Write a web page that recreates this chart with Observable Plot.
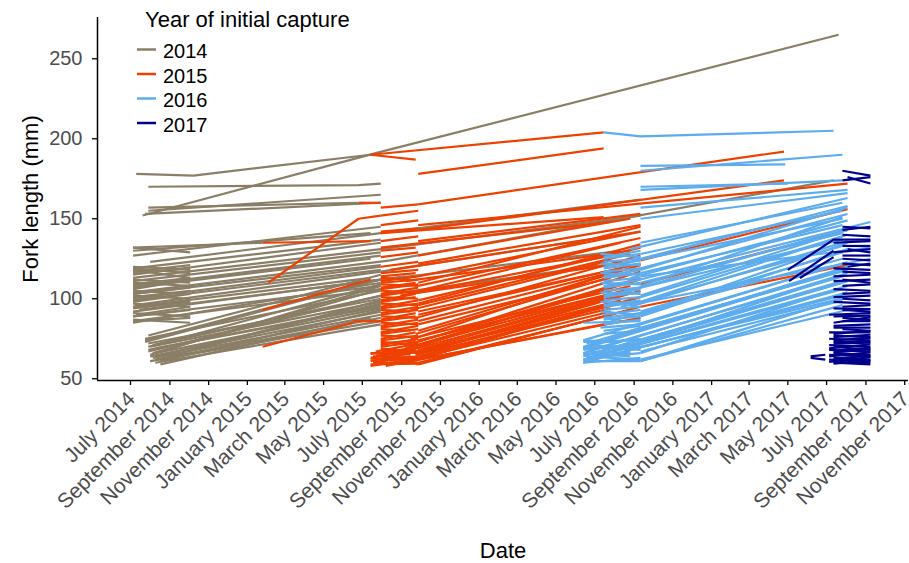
<!DOCTYPE html>
<html>
<head>
<meta charset="utf-8">
<script src="https://cdn.jsdelivr.net/npm/d3@7"></script>
<script src="https://cdn.jsdelivr.net/npm/@observablehq/plot@0.6"></script>
<style>
  html, body { margin: 0; padding: 0; background: #ffffff; }
  #wrap { position: relative; width: 909px; height: 563px; }
  #legend { position: absolute; left: 0; top: 0; pointer-events: none; }
</style>
</head>
<body>
<div id="wrap"></div>
<script>
// Cohorts (year of initial capture) and their line colours
const cohortYears = ["2014", "2015", "2016", "2017"];
const cohortColors = ["#8B7E66", "#EE4000", "#5CACEE", "#00008B"];

// Axis ticks
const yTicks = [50, 100, 150, 200, 250];
const xTickStart = "2014-07-01";
const xTickEnd = "2017-11-02";

// Each fish: capture date, fork length (mm), next capture date, length, ...
const tracks2014 = [
  ["2014-07-10",178,"2014-10-08",177,"2015-07-14",190],
  ["2014-07-20",152,"2015-07-22",191,"2017-07-20",265],
  ["2014-07-29",170,"2015-06-25",171,"2015-07-30",172],
  ["2014-07-29",155,"2015-07-30",165],
  ["2014-07-24",153,"2015-07-30",160],
  ["2014-07-29",157,"2015-06-25",160],
  ["2014-07-05",132,"2014-10-03",129],
  ["2014-07-05",132,"2015-01-25",135],
  ["2014-07-05",130,"2015-07-14",141],
  ["2014-08-01",123,"2015-07-30",141,"2016-09-11",162],
  ["2014-07-05",120,"2014-10-03",118],
  ["2014-07-05",117,"2014-10-03",121],
  ["2014-07-05",113,"2015-07-30",131,"2016-09-11",152],
  ["2014-07-05",110,"2014-10-03",108],
  ["2014-07-05",108,"2015-07-30",127],
  ["2014-07-05",106,"2014-10-03",112],
  ["2014-07-05",104,"2015-08-14",124,"2017-07-12",174],
  ["2014-07-05",102,"2014-10-03",100],
  ["2014-07-05",100,"2015-07-30",120],
  ["2014-07-05",98,"2014-10-03",103],
  ["2014-07-08",96,"2015-07-30",117,"2016-09-11",142],
  ["2014-07-05",94,"2014-10-03",98],
  ["2014-07-05",92,"2015-09-07",114],
  ["2014-07-10",90,"2014-10-03",95],
  ["2014-07-05",87,"2014-10-03",85],
  ["2014-07-05",85,"2015-07-30",110],
  ["2014-07-15",93,"2015-07-30",112],
  ["2014-07-05",115,"2015-07-30",135],
  ["2014-07-05",127,"2015-07-30",145],
  ["2014-07-05",119,"2014-10-03",116],
  ["2014-07-05",116,"2014-10-03",119],
  ["2014-07-05",112,"2014-10-03",110],
  ["2014-07-05",109,"2014-10-03",113],
  ["2014-07-05",105,"2014-10-03",103],
  ["2014-07-05",101,"2014-10-03",105],
  ["2014-07-05",97,"2014-10-03",95],
  ["2014-07-05",95,"2014-10-03",99],
  ["2014-07-05",91,"2014-10-03",89],
  ["2014-07-05",89,"2014-10-03",93],
  ["2014-07-05",86,"2014-10-03",88],
  ["2014-07-05",118,"2014-10-03",113],
  ["2014-07-05",103,"2014-10-03",107],
  ["2014-07-05",119,"2015-07-30",137],
  ["2014-07-05",111,"2015-07-30",129],
  ["2014-07-05",107,"2015-07-14",125],
  ["2014-07-05",103,"2015-07-30",121],
  ["2014-07-05",99,"2015-07-30",118],
  ["2014-07-05",95,"2015-07-14",113],
  ["2014-07-05",89,"2015-07-30",108],
  ["2014-07-05",86,"2015-07-30",106],
  ["2014-07-24",75,"2015-07-30",105],
  ["2014-07-29",72,"2015-07-30",100],
  ["2014-08-01",70,"2015-07-30",98],
  ["2014-07-29",68,"2015-07-30",96],
  ["2014-08-09",66,"2015-07-30",94],
  ["2014-08-01",64,"2015-07-30",92],
  ["2014-08-05",63,"2015-07-30",90],
  ["2014-08-09",62,"2015-07-30",88],
  ["2014-08-01",61,"2015-07-30",86],
  ["2014-08-17",59,"2015-07-14",88],
  ["2014-07-29",67,"2015-07-30",102],
  ["2014-08-01",65,"2015-07-30",108],
  ["2014-07-24",73,"2015-07-30",112],
  ["2014-08-09",69,"2015-07-30",95],
  ["2014-07-24",74,"2015-07-14",111,"2016-08-11",130],
  ["2014-08-05",71,"2015-08-14",103,"2016-07-15",121],
  ["2014-08-09",60,"2015-07-30",84],
  ["2014-07-29",77,"2015-07-30",115],
  ["2014-08-13",62,"2015-07-30",99],
  ["2014-08-05",66,"2015-07-30",106],
  ["2014-07-29",70,"2015-07-30",109],
  ["2014-08-09",64,"2015-07-30",97],
  ["2014-08-17",61,"2015-07-30",93]
];

const tracks2015 = [
  ["2015-01-25",135,"2015-07-14",136],
  ["2015-01-25",70,"2015-06-17",85],
  ["2015-01-25",93,"2015-07-14",112],
  ["2015-02-03",110,"2015-06-25",150,"2015-07-30",152],
  ["2015-06-17",86,"2015-07-30",86],
  ["2015-06-25",160,"2015-07-30",160],
  ["2015-07-14",190,"2016-07-15",204],
  ["2015-07-14",190,"2015-09-23",187],
  ["2015-09-27",178,"2016-07-15",194],
  ["2015-09-27",159,"2017-04-25",192],
  ["2015-09-27",143,"2017-04-25",174],
  ["2015-09-27",146,"2017-08-03",172],
  ["2015-08-07",58,"2016-08-11",86],
  ["2015-09-23",59,"2016-07-26",90],
  ["2015-09-27",60,"2016-08-26",93],
  ["2015-09-15",61,"2016-09-11",88],
  ["2015-09-27",62,"2016-07-15",96],
  ["2015-08-14",63,"2016-08-11",99],
  ["2015-09-27",64,"2016-09-11",101],
  ["2015-09-23",65,"2016-07-26",94],
  ["2015-09-27",66,"2016-08-26",104],
  ["2015-09-07",67,"2016-09-11",107],
  ["2015-09-27",68,"2016-07-15",100],
  ["2015-09-27",70,"2016-08-11",110],
  ["2015-09-15",72,"2016-09-11",113],
  ["2015-09-27",74,"2016-08-26",106],
  ["2015-09-27",76,"2016-07-26",116],
  ["2015-09-23",78,"2016-09-11",119],
  ["2015-09-27",86,"2016-08-11",118],
  ["2015-09-27",90,"2016-09-11",122],
  ["2015-09-15",93,"2016-07-26",124],
  ["2015-09-27",96,"2016-08-26",128],
  ["2015-09-27",99,"2016-09-11",132],
  ["2015-08-30",102,"2016-07-15",126],
  ["2015-09-27",105,"2016-08-11",135],
  ["2015-09-27",108,"2016-09-11",138],
  ["2015-09-07",111,"2016-08-26",130],
  ["2015-09-27",114,"2016-09-11",142],
  ["2015-08-14",118,"2016-08-11",140],
  ["2015-09-27",122,"2016-09-11",146],
  ["2015-09-27",127,"2016-08-26",150],
  ["2015-07-30",132,"2016-07-26",148],
  ["2015-09-27",136,"2016-09-11",153],
  ["2015-07-30",141,"2016-07-15",151],
  ["2015-09-27",59,"2016-09-11",95],
  ["2015-09-15",61,"2016-08-11",98],
  ["2015-09-27",63,"2016-07-26",92],
  ["2015-09-23",65,"2016-09-11",105],
  ["2015-09-27",67,"2016-08-11",97],
  ["2015-09-07",69,"2016-09-11",112],
  ["2015-09-27",71,"2016-07-26",103],
  ["2015-09-27",73,"2016-09-11",117],
  ["2015-09-15",75,"2016-08-26",108],
  ["2015-09-27",80,"2016-09-11",121],
  ["2015-09-27",84,"2016-07-26",113],
  ["2015-09-23",88,"2016-09-11",127],
  ["2015-09-27",92,"2016-08-11",119],
  ["2015-09-27",97,"2016-09-11",134],
  ["2015-09-15",103,"2016-08-26",123],
  ["2015-09-27",110,"2016-09-11",145],
  ["2015-07-14",58,"2015-09-15",62],
  ["2015-07-18",60,"2015-09-27",60],
  ["2015-07-14",61,"2015-09-07",66],
  ["2015-07-22",62,"2015-09-27",64],
  ["2015-07-14",63,"2015-09-23",68],
  ["2015-07-18",64,"2015-09-27",63],
  ["2015-07-30",65,"2015-09-27",70],
  ["2015-07-14",66,"2015-09-15",65],
  ["2015-07-22",67,"2015-09-27",72],
  ["2015-07-30",69,"2015-09-23",67],
  ["2015-07-30",71,"2015-09-27",75],
  ["2015-07-30",73,"2015-09-27",71],
  ["2015-07-30",75,"2015-09-23",79],
  ["2015-07-30",77,"2015-09-27",76],
  ["2015-07-30",79,"2015-09-27",83],
  ["2015-07-30",81,"2015-09-15",80],
  ["2015-07-30",83,"2015-09-27",87],
  ["2015-07-30",85,"2015-09-27",84],
  ["2015-07-30",87,"2015-09-23",91],
  ["2015-07-30",89,"2015-09-27",88],
  ["2015-07-30",91,"2015-09-27",95],
  ["2015-07-30",93,"2015-09-15",92],
  ["2015-07-30",95,"2015-09-27",99],
  ["2015-07-30",97,"2015-09-27",96],
  ["2015-07-30",99,"2015-09-23",103],
  ["2015-07-30",101,"2015-09-27",100],
  ["2015-07-30",103,"2015-09-27",107],
  ["2015-07-30",105,"2015-09-27",104],
  ["2015-07-30",107,"2015-09-23",110],
  ["2015-07-30",109,"2015-09-27",108],
  ["2015-07-30",111,"2015-09-27",114],
  ["2015-07-30",113,"2015-09-15",112],
  ["2015-07-30",116,"2015-09-27",118],
  ["2015-07-30",120,"2015-09-27",123],
  ["2015-07-30",126,"2015-09-27",129],
  ["2015-07-30",130,"2015-09-23",132],
  ["2015-07-30",146,"2015-09-27",149],
  ["2015-07-30",152,"2015-09-27",155],
  ["2015-07-30",157,"2015-09-27",159],
  ["2015-07-14",59,"2015-09-27",59.5],
  ["2015-07-18",60.5,"2015-09-23",63],
  ["2015-07-14",62.5,"2015-09-27",61.5],
  ["2015-07-22",64.5,"2015-09-27",67],
  ["2015-07-14",65.5,"2015-09-15",69],
  ["2015-07-30",68,"2015-09-27",66],
  ["2015-07-30",70,"2015-09-27",73],
  ["2015-07-30",72,"2015-09-23",74],
  ["2015-07-30",74,"2015-09-27",77],
  ["2015-07-30",78,"2015-09-27",81],
  ["2015-07-30",82,"2015-09-27",85],
  ["2015-07-30",86,"2015-09-23",89],
  ["2015-07-30",90,"2015-09-27",93],
  ["2015-07-30",94,"2015-09-27",97],
  ["2015-07-30",98,"2015-09-23",101],
  ["2015-07-30",102,"2015-09-27",105],
  ["2015-07-30",106,"2015-09-27",109],
  ["2015-07-30",110,"2015-09-27",112],
  ["2015-07-30",114,"2015-09-23",116],
  ["2015-07-30",136,"2015-09-27",139],
  ["2015-07-30",142,"2015-09-27",144],
  ["2016-09-11",124,"2017-08-03",156],
  ["2016-09-11",109,"2017-08-03",143],
  ["2016-09-11",95,"2017-08-03",121]
];

const tracks2016 = [
  ["2016-07-15",204,"2016-09-11",201.5,"2017-07-12",205],
  ["2016-09-11",183,"2017-04-27",184],
  ["2016-09-11",180,"2017-07-26",190],
  ["2016-09-11",170,"2017-05-01",172],
  ["2016-09-11",168,"2017-07-26",174],
  ["2016-09-11",157,"2017-08-03",168],
  ["2016-09-11",150,"2017-08-03",166],
  ["2016-09-11",112,"2017-09-08",148],
  ["2016-09-11",114,"2017-09-08",132],
  ["2016-08-11",95,"2017-09-08",125],
  ["2016-09-11",135,"2017-07-26",160],
  ["2016-08-26",131,"2017-08-03",163],
  ["2016-09-11",128,"2017-07-26",155],
  ["2016-09-11",125,"2017-08-03",158],
  ["2016-08-11",122,"2017-07-26",150],
  ["2016-09-11",119,"2017-08-03",153],
  ["2016-09-11",116,"2017-07-26",146],
  ["2016-08-26",113,"2017-08-03",149],
  ["2016-09-11",110,"2017-07-26",141],
  ["2016-09-11",107,"2017-08-03",144],
  ["2016-08-11",104,"2017-07-26",137],
  ["2016-09-11",101,"2017-08-03",140],
  ["2016-09-11",98,"2017-07-26",133],
  ["2016-08-26",95,"2017-08-03",136],
  ["2016-09-11",92,"2017-07-26",129],
  ["2016-09-11",89,"2017-08-03",131],
  ["2016-07-26",86,"2017-07-26",125],
  ["2016-06-13",74,"2017-08-03",123],
  ["2016-06-18",72,"2017-07-26",118],
  ["2016-06-13",70,"2017-08-03",120],
  ["2016-06-24",68,"2017-07-26",114],
  ["2016-06-13",66,"2017-08-03",116],
  ["2016-06-18",65,"2017-07-26",110],
  ["2016-06-13",64,"2017-08-03",112],
  ["2016-06-24",63,"2017-07-26",106],
  ["2016-06-13",62,"2017-08-03",108],
  ["2016-06-18",61,"2017-07-26",102],
  ["2016-06-13",60,"2017-08-03",104],
  ["2016-09-11",61,"2017-07-26",96],
  ["2016-09-11",62,"2017-08-03",93],
  ["2016-09-11",67,"2017-07-26",99],
  ["2016-09-11",70,"2017-08-03",101],
  ["2016-09-11",61,"2017-07-26",100],
  ["2016-06-18",63,"2017-08-03",111],
  ["2016-09-11",66,"2017-07-26",107],
  ["2016-06-13",69,"2017-08-03",119],
  ["2016-09-11",73,"2017-07-26",115],
  ["2016-08-26",80,"2017-08-03",118],
  ["2016-09-11",84,"2017-07-26",122],
  ["2016-09-11",90,"2017-08-03",135],
  ["2016-08-26",96,"2017-07-26",139],
  ["2016-09-11",102,"2017-08-03",143],
  ["2016-09-11",108,"2017-07-26",151],
  ["2016-09-11",118,"2017-08-03",157],
  ["2016-06-13",60,"2016-09-11",63],
  ["2016-06-13",62,"2016-08-26",67],
  ["2016-06-18",64,"2016-09-11",62],
  ["2016-06-13",65,"2016-09-11",70],
  ["2016-06-24",67,"2016-08-26",66],
  ["2016-06-13",68,"2016-09-11",72],
  ["2016-06-13",70,"2016-09-11",68],
  ["2016-06-24",72,"2016-09-11",75],
  ["2016-06-13",74,"2016-08-11",73],
  ["2016-06-13",61,"2016-09-11",61],
  ["2016-06-18",63,"2016-09-11",66],
  ["2016-06-13",66,"2016-08-26",64],
  ["2016-06-13",69,"2016-09-11",71],
  ["2016-06-24",71,"2016-09-11",69],
  ["2016-06-13",73,"2016-09-11",74],
  ["2016-06-13",85,"2016-09-11",86],
  ["2016-07-15",78,"2016-09-11",80],
  ["2016-07-10",82,"2016-09-11",84],
  ["2016-07-15",88,"2016-09-11",91],
  ["2016-07-10",92,"2016-09-11",90],
  ["2016-07-15",95,"2016-09-11",98],
  ["2016-07-10",98,"2016-09-11",97],
  ["2016-07-15",101,"2016-09-11",104],
  ["2016-07-10",104,"2016-09-11",103],
  ["2016-07-15",107,"2016-09-11",110],
  ["2016-07-10",110,"2016-09-11",109],
  ["2016-07-15",113,"2016-09-11",116],
  ["2016-07-10",116,"2016-09-11",115],
  ["2016-07-15",119,"2016-09-11",122],
  ["2016-07-10",122,"2016-09-11",121],
  ["2016-07-15",125,"2016-09-11",128],
  ["2016-07-10",128,"2016-09-11",126],
  ["2016-07-15",80,"2016-09-11",83],
  ["2016-07-15",84,"2016-09-11",87],
  ["2016-07-15",87,"2016-09-11",89],
  ["2016-07-15",90,"2016-09-11",93],
  ["2016-07-15",93,"2016-09-11",95],
  ["2016-07-15",96,"2016-09-11",99],
  ["2016-07-15",99,"2016-09-11",101],
  ["2016-07-15",102,"2016-09-11",106],
  ["2016-07-15",105,"2016-09-11",107],
  ["2016-07-15",108,"2016-09-11",112],
  ["2016-07-15",111,"2016-09-11",113],
  ["2016-07-15",114,"2016-09-11",118],
  ["2016-07-15",117,"2016-09-11",119],
  ["2016-07-15",120,"2016-09-11",124],
  ["2016-07-15",123,"2016-09-11",125],
  ["2016-07-15",126,"2016-09-11",130]
];

const tracks2017 = [
  ["2017-07-26",180,"2017-09-08",177],
  ["2017-07-26",174,"2017-09-08",176],
  ["2017-08-03",176,"2017-09-08",172],
  ["2017-07-26",145,"2017-09-08",144],
  ["2017-07-26",143,"2017-09-08",145],
  ["2017-07-26",140,"2017-09-08",139],
  ["2017-05-01",118,"2017-07-12",137,"2017-09-08",137],
  ["2017-05-03",111,"2017-07-12",130],
  ["2017-05-20",113,"2017-07-12",126],
  ["2017-07-26",133,"2017-09-08",133],
  ["2017-08-03",131,"2017-09-08",129],
  ["2017-07-26",127,"2017-09-08",127],
  ["2017-07-26",125,"2017-09-08",124],
  ["2017-07-26",122,"2017-09-08",121],
  ["2017-08-03",120,"2017-09-08",122],
  ["2017-07-26",117,"2017-09-08",116],
  ["2017-07-12",114,"2017-09-08",115],
  ["2017-07-26",112,"2017-09-08",110],
  ["2017-07-26",108,"2017-09-08",109],
  ["2017-07-12",106,"2017-09-08",105],
  ["2017-07-26",103,"2017-09-08",104],
  ["2017-07-26",100,"2017-09-08",99],
  ["2017-07-12",98,"2017-09-08",97],
  ["2017-07-26",95,"2017-09-08",96],
  ["2017-07-26",93,"2017-09-08",92],
  ["2017-07-05",90,"2017-09-08",91],
  ["2017-07-26",88,"2017-09-08",87],
  ["2017-07-26",86,"2017-09-08",86],
  ["2017-07-12",83,"2017-09-08",84],
  ["2017-07-26",81,"2017-09-08",80],
  ["2017-07-05",79,"2017-09-08",79],
  ["2017-07-12",77,"2017-09-08",76],
  ["2017-07-05",75,"2017-09-08",74],
  ["2017-07-12",73,"2017-09-08",73],
  ["2017-07-05",71,"2017-09-08",70],
  ["2017-07-12",70,"2017-09-08",68],
  ["2017-07-05",68,"2017-09-08",67],
  ["2017-07-12",66,"2017-09-08",65],
  ["2017-07-05",65,"2017-09-08",64],
  ["2017-07-12",63,"2017-09-08",62],
  ["2017-07-05",62,"2017-09-08",61],
  ["2017-07-12",61,"2017-09-08",60],
  ["2017-07-12",60,"2017-09-08",59],
  ["2017-07-12",59.5,"2017-09-08",61.5],
  ["2017-07-05",60.5,"2017-09-08",63.5],
  ["2017-07-12",62.5,"2017-09-08",64.5],
  ["2017-07-05",64,"2017-09-08",66.5],
  ["2017-07-12",66.5,"2017-09-08",68.5],
  ["2017-07-12",67.5,"2017-09-08",69.5],
  ["2017-07-05",69,"2017-09-08",71.5],
  ["2017-07-12",72,"2017-09-08",72.5],
  ["2017-07-12",74,"2017-09-08",75.5],
  ["2017-07-12",76,"2017-09-08",77.5],
  ["2017-07-12",78,"2017-09-08",80],
  ["2017-07-12",82,"2017-09-08",82],
  ["2017-07-12",85,"2017-09-08",88.5],
  ["2017-07-12",89,"2017-09-08",89.5],
  ["2017-07-12",94,"2017-09-08",93.5],
  ["2017-07-12",101,"2017-09-08",102],
  ["2017-07-12",111,"2017-09-08",112],
  ["2017-07-12",119,"2017-09-08",118],
  ["2017-07-12",129,"2017-09-08",131],
  ["2017-07-12",135,"2017-09-08",136],
  ["2017-06-06",64,"2017-06-29",65],
  ["2017-06-06",63,"2017-06-29",62]
];

// Flatten the tracks into one row per capture
const tracksByCohort = [tracks2014, tracks2015, tracks2016, tracks2017];
const captures = [];
let fishId = 0;
tracksByCohort.forEach((tracks, i) => {
  tracks.forEach(track => {
    fishId += 1;
    for (let k = 0; k < track.length; k += 2) {
      captures.push({fish: fishId, cohort: cohortYears[i], date: new Date(track[k]), length: track[k + 1]});
    }
  });
});

const xDomain = [new Date("2014-05-10"), new Date("2017-11-07")];
const yDomain = [48.9, 275.8];
const xTicks = d3.utcMonth.every(2).range(new Date(xTickStart), new Date(xTickEnd));
const monthYear = d3.utcFormat("%B %Y");

const chart = Plot.plot({
  width: 909,
  height: 563,
  marginLeft: 97,
  marginRight: 1,
  marginTop: 17,
  marginBottom: 183,
  style: {fontFamily: "'Liberation Sans', Arial, sans-serif", background: "#ffffff", color: "#000000"},
  x: {type: "utc", domain: xDomain},
  y: {domain: yDomain},
  color: {domain: cohortYears, range: cohortColors},
  marks: [
    Plot.line(captures, {x: "date", y: "length", z: "fish", stroke: "cohort", strokeWidth: 2.2, strokeLinecap: "butt"}),
    Plot.ruleX([xDomain[0]], {stroke: "#000000", strokeWidth: 1.5}),
    Plot.ruleY([yDomain[0]], {stroke: "#000000", strokeWidth: 1.5}),
    Plot.axisY({ticks: yTicks, tickSize: 5, tickPadding: 10, fontSize: 20, stroke: "#000000", fill: "#4d4d4d", strokeWidth: 1.3, label: null}),
    // tick marks on the date axis
    Plot.axisX({ticks: xTicks, tickFormat: () => "", tickSize: 5, stroke: "#000000", strokeWidth: 1.3, label: null}),
    // rotated month labels
    Plot.axisX({ticks: xTicks, tickFormat: monthYear, tickRotate: -45, tickSize: 0, tickPadding: 15, dx: 1, fontSize: 21, fill: "#4d4d4d", label: null}),
    Plot.text(["Fork length (mm)"], {frameAnchor: "left", dx: -67, rotate: -90, textAnchor: "middle", lineAnchor: "middle", fontSize: 22, fill: "#000000"}),
    Plot.text(["Date"], {frameAnchor: "bottom", dy: 170, textAnchor: "middle", lineAnchor: "middle", fontSize: 22, fill: "#000000"})
  ]
});

const wrap = document.getElementById("wrap");
wrap.appendChild(chart);

// Line-swatch legend in the upper left of the panel
const ns = "http://www.w3.org/2000/svg";
const legend = document.createElementNS(ns, "svg");
legend.setAttribute("id", "legend");
legend.setAttribute("width", 909);
legend.setAttribute("height", 563);
legend.setAttribute("font-family", "'Liberation Sans', Arial, sans-serif");
const title = document.createElementNS(ns, "text");
title.setAttribute("x", 145);
title.setAttribute("y", 27);
title.setAttribute("font-size", 22);
title.textContent = "Year of initial capture";
legend.appendChild(title);
cohortYears.forEach((year, i) => {
  const cy = 49.5 + i * 24.5;
  const line = document.createElementNS(ns, "line");
  line.setAttribute("x1", 137);
  line.setAttribute("x2", 156);
  line.setAttribute("y1", cy);
  line.setAttribute("y2", cy);
  line.setAttribute("stroke", cohortColors[i]);
  line.setAttribute("stroke-width", 2.5);
  legend.appendChild(line);
  const label = document.createElementNS(ns, "text");
  label.setAttribute("x", 163);
  label.setAttribute("y", cy + 8.5);
  label.setAttribute("font-size", 20);
  label.textContent = year;
  legend.appendChild(label);
});
wrap.appendChild(legend);
</script>
</body>
</html>
